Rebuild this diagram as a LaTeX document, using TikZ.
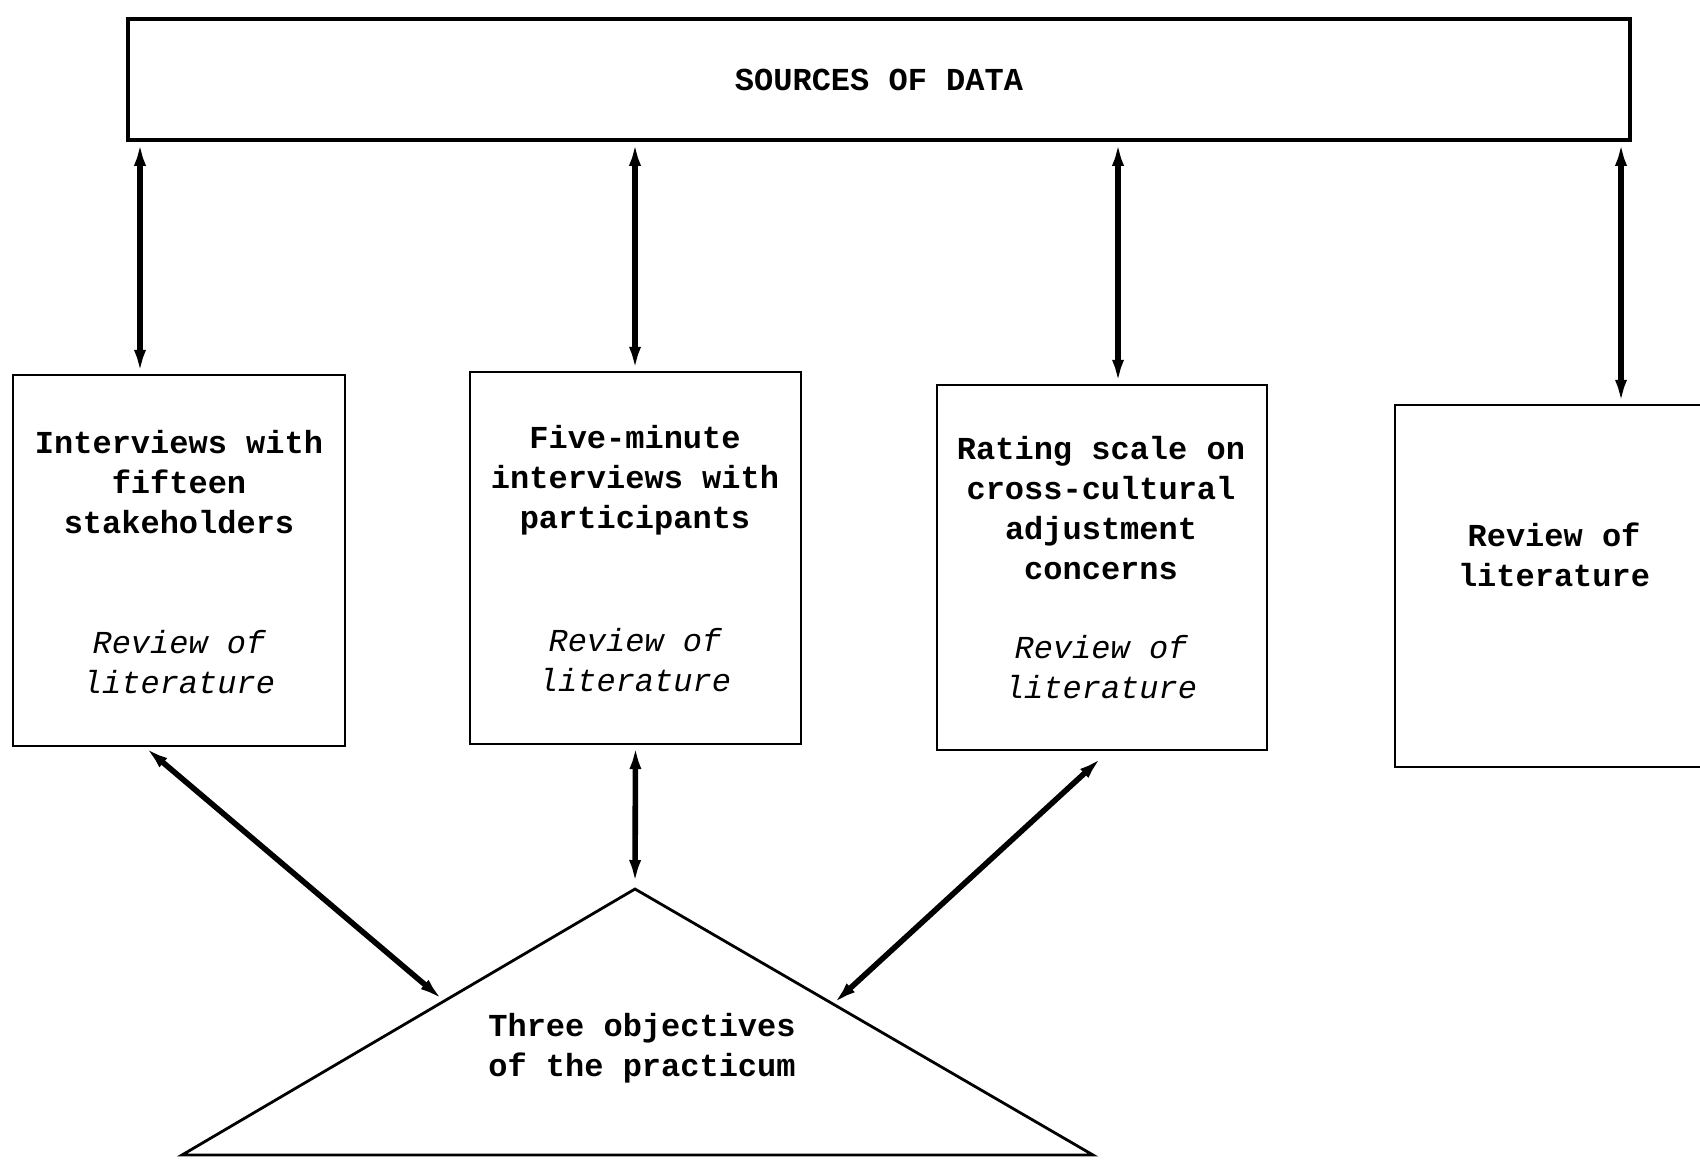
\documentclass[tikz,border=0pt]{standalone}
\usepackage{fontspec}
\setmonofont{Liberation Mono}
\usetikzlibrary{arrows.meta}
\begin{document}
\begin{tikzpicture}[x=0.5pt,y=-0.5pt,
  boxst/.style={draw, line width=1.2pt, inner sep=0pt, fill=white},
  bigbox/.style={draw, line width=1.8pt, inner sep=0pt, font=\ttfamily\bfseries\fontsize{16}{20}\selectfont},
  lbl/.style={font=\ttfamily\bfseries\fontsize{16}{20}\selectfont, align=center, inner sep=0pt},
  ital/.style={font=\ttfamily\itshape\fontsize{16}{20}\selectfont, align=center, inner sep=0pt},
  arr/.style={line width=2.8pt, {Latex[length=12pt,width=6pt]}-{Latex[length=12pt,width=6pt]}},
  tri/.style={draw, line width=1.4pt, line join=miter}]
\useasboundingbox (0,0) rectangle (1700,1166);
\clip (0,0) rectangle (1700,1166);
\fill[white] (0,0) rectangle (1700,1166);

% top box
\node[bigbox, minimum width=751pt, minimum height=60.5pt] (src) at (879,79.5) {SOURCES OF DATA};

% source boxes
\node[boxst, minimum width=166pt, minimum height=185.5pt] (b1) at (179,560.5) {};
\node[boxst, minimum width=165.5pt, minimum height=186pt] (b2) at (635.5,558) {};
\node[boxst, minimum width=165pt, minimum height=182.5pt] (b3) at (1102,567.5) {};
\node[boxst, minimum width=165pt, minimum height=181pt] (b4) at (1560,586) {};

\node[lbl] (t1) at (179,482) {Interviews with\\fifteen\\stakeholders};
\node[ital] (r1) at (179,662) {Review of\\literature};
\node[lbl] (t2) at (635,480) {Five-minute\\interviews with\\participants};
\node[ital] (r2) at (635,660) {Review of\\literature};
\node[lbl] (t3) at (1101,508.5) {Rating scale on\\cross-cultural\\adjustment\\concerns};
\node[ital] (r3) at (1101,667.5) {Review of\\literature};
\node[lbl] (t4) at (1554,554.5) {Review of\\literature};

% triangle
\coordinate (apex) at (635,889);
\coordinate (tl) at (182,1155);
\coordinate (tr) at (1093,1155);
\draw[tri] (apex) -- (tl) -- (tr) -- cycle;
\node[lbl] (obj) at (642,1048) {Three objectives\\of the practicum};

% vertical connectors to top box
\coordinate (x1) at (140,0);
\coordinate (x2) at (635,0);
\coordinate (x3) at (1118,0);
\coordinate (x4) at (1621,0);
\draw[arr] (src.south -| x1) -- (b1.north -| x1);
\draw[arr] (src.south -| x2) -- (b2.north -| x2);
\draw[arr] (src.south -| x3) -- (b3.north -| x3);
\draw[arr] (src.south -| x4) -- (b4.north -| x4);

% connectors to triangle
\coordinate (pl) at (443,1000);
\coordinate (pr) at (833,1004);
\draw[arr] ([xshift=-17pt]b1.south) -- (pl);
\draw[arr, shorten >=2.5pt] (b2.south) -- (apex);
\draw[arr] ([yshift=-3pt]b3.south) -- (pr);
\end{tikzpicture}
\end{document}
